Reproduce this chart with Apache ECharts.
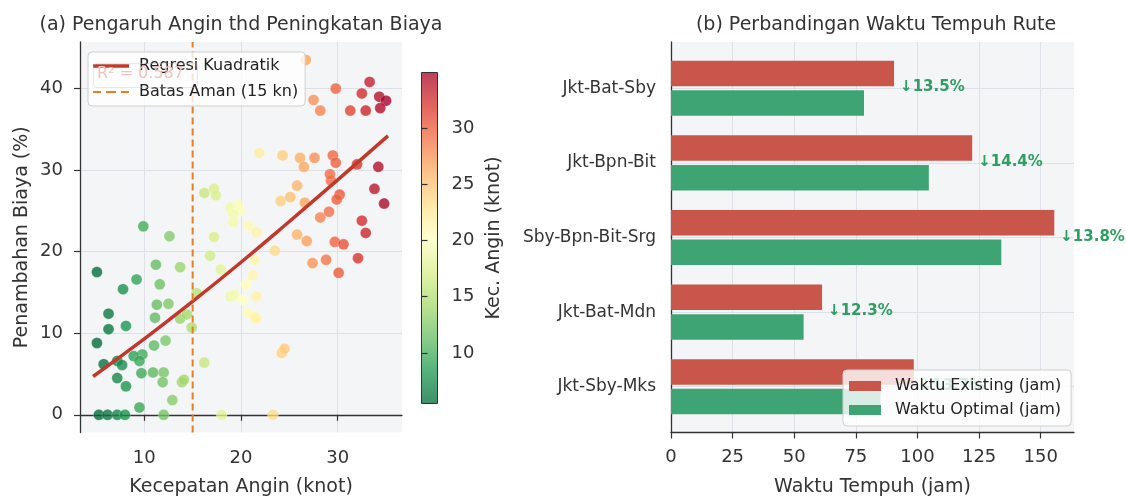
<!DOCTYPE html>
<html><head><meta charset="utf-8">
<script src="https://cdn.jsdelivr.net/npm/echarts@6/dist/echarts.min.js"></script>
<style>html,body{margin:0;padding:0;background:#fff}#c{width:1126px;height:497px}</style>
</head><body><div id="c"></div>
<script>
// ---- Panel (a) data ----
const windSpeed = [
  5.1,9.9,12.6,11.2,13.7,9.2,11.6,7.8,6.3,6.3,8.1,5.1,11.3,12.5,11.1,13.7,14.4,15.4,14.9,12.2,
  11.0,9.8,8.9,9.5,5.8,7.2,7.7,7.2,8.1,9.7,10.9,12.0,11.9,13.9,14.1,12.9,9.5,5.3,6.2,7.2,8.0,12.0,
  16.2,18.0,23.3,24.2,24.5,17.2,16.8,17.9,18.9,19.3,20.2,21.6,21.2,20.5,20.7,21.4,21.6,21.4,20.8,21.6,
  18.9,19.7,19.9,19.2,19.2,16.2,17.2,17.4,21.9,
  23.5,25.8,26.8,27.4,28.8,30.1,29.7,30.6,28.2,29.1,32.1,32.5,32.9,34.8,24.1,25.1,25.8,26.6,29.3,29.2,
  30.2,29.9,33.8,24.3,26.1,26.5,27.6,29.5,29.8,32.0,34.2,26.7,29.8,33.3,32.5,34.3,35.0,34.4,32.9,31.3,27.5,28.2
];
const costIncrease = [
  17.5,23.1,21.9,18.4,18.1,16.6,16.0,15.4,12.4,10.5,10.9,8.8,13.5,13.6,11.9,11.8,12.3,14.9,10.7,9.1,
  8.5,7.4,7.2,6.6,6.2,6.6,6.1,4.5,3.5,5.1,5.2,5.2,4.0,4.0,4.3,1.8,0.9,0,0,0,0,0,
  6.4,0,0,7.6,8.1,21.8,19.5,17.8,14.5,14.7,14.1,14.5,17.1,16.0,12.5,12.0,11.8,19.0,23.2,22.4,
  25.4,25.7,25.0,24.6,23.6,27.2,27.7,26.9,32.1,
  20.1,22.1,21.3,18.6,19.0,17.4,21.2,20.9,24.2,24.9,19.2,23.8,22.3,25.9,26.2,26.7,28.1,26.0,28.7,29.5,
  27.0,26.4,27.7,31.8,31.5,30.4,31.5,31.8,30.9,30.7,30.4,43.5,40.0,40.8,39.4,39.0,38.5,37.6,37.3,37.3,38.6,37.3
];
const regressionX = [4.7, 10, 15, 20, 25, 30, 35.2];
const regressionY = [4.7, 9.3, 13.9, 18.7, 23.7, 28.8, 34.2];
const safeLimit = 15;
const r2Text = 'R² = 0.587';
const windTicks = [10, 20, 30];
const costTicks = [0, 10, 20, 30, 40];
const colorbarTicks = [10, 15, 20, 25, 30];

// ---- Panel (b) data ----
const routes = ['Jkt-Bat-Sby', 'Jkt-Bpn-Bit', 'Sby-Bpn-Bit-Srg', 'Jkt-Bat-Mdn', 'Jkt-Sby-Mks'];
const existingTime = [90.5, 122.2, 155.5, 61.3, 98.5];
const optimalTime = [78.3, 104.6, 134.0, 53.8, 85.0];
const reductionLabels = ['↓13.5%', '↓14.4%', '↓13.8%', '↓12.3%', '↓13.7%'];
const timeTicks = [0, 25, 50, 75, 100, 125, 150];

const FONT = 'DejaVu Sans';
const rdylgnR = ['#006837','#1a9850','#66bd63','#a6d96a','#d9ef8b','#ffffbf','#fee08b','#fdae61','#f46d43','#d73027','#a50026'];
function withAlpha(hex, a) {
  const n = parseInt(hex.slice(1), 16);
  return 'rgba(' + (n >> 16) + ',' + ((n >> 8) & 255) + ',' + (n & 255) + ',' + a + ')';
}
const cbGradient = {
  type: 'linear', x: 0, y: 0, x2: 0, y2: 1,
  colorStops: rdylgnR.slice().reverse().map((c, i, arr) => ({ offset: i / (arr.length - 1), color: withAlpha(c, 0.75) }))
};

const scatterData = windSpeed.map((x, i) => [x, costIncrease[i]]);
const regressionData = regressionX.map((x, i) => [x, regressionY[i]]);

const axisLineStyle = { show: true, lineStyle: { color: '#333', width: 1.3 } };
const tickStyle = { lineStyle: { color: '#333', width: 1.2 }, length: 6, inside: false };
const splitStyle = { show: true, lineStyle: { color: '#dde1e7', width: 1 } };
const labelStyle = { fontFamily: FONT, fontSize: 18, color: '#333' };
const nameStyle = { fontFamily: FONT, fontSize: 19, color: '#333' };

const chart = echarts.init(document.getElementById('c'), null, { renderer: 'canvas' });
chart.setOption({
  backgroundColor: '#ffffff',
  animation: false,
  title: [
    { text: '(a) Pengaruh Angin thd Peningkatan Biaya', left: 236, top: 11, textAlign: 'center',
      textStyle: { fontFamily: FONT, fontSize: 19, fontWeight: 'normal', color: '#333' } },
    { text: '(b) Perbandingan Waktu Tempuh Rute', left: 871, top: 11, textAlign: 'center',
      textStyle: { fontFamily: FONT, fontSize: 19, fontWeight: 'normal', color: '#333' } }
  ],
  grid: [
    { left: 80, top: 42, width: 322, height: 390.5, show: true, backgroundColor: '#f4f5f7', borderWidth: 0, outerBoundsMode: 'none', containLabel: false },
    { left: 421.5, top: 72.5, width: 16, height: 331, show: true, backgroundColor: cbGradient, borderColor: '#333', borderWidth: 1, outerBoundsMode: 'none', containLabel: false },
    { left: 671, top: 42, width: 403, height: 390.5, show: true, backgroundColor: '#f4f5f7', borderWidth: 0, outerBoundsMode: 'none', containLabel: false },
    { left: 671, top: 51, width: 403, height: 373, outerBoundsMode: 'none', containLabel: false }
  ],
  xAxis: [
    { gridIndex: 0, type: 'value', min: 3.35, max: 36.65,
      axisLine: axisLineStyle, axisTick: Object.assign({ customValues: windTicks }, tickStyle),
      axisLabel: Object.assign({ customValues: windTicks, margin: 17 }, labelStyle),
      splitLine: splitStyle,
      name: 'Kecepatan Angin (knot)', nameLocation: 'middle', nameGap: 45, nameTextStyle: nameStyle },
    { gridIndex: 1, type: 'value', min: 0, max: 1, show: false },
    { gridIndex: 2, type: 'value', min: 0, max: 163.5,
      axisLine: axisLineStyle, axisTick: Object.assign({ customValues: timeTicks }, tickStyle),
      axisLabel: Object.assign({ customValues: timeTicks, margin: 16 }, labelStyle),
      splitLine: splitStyle,
      name: 'Waktu Tempuh (jam)', nameLocation: 'middle', nameGap: 45, nameTextStyle: nameStyle },
    { gridIndex: 3, type: 'value', min: 0, max: 163.5, show: false }
  ],
  yAxis: [
    { gridIndex: 0, type: 'value', min: -2.17, max: 45.7,
      axisLine: axisLineStyle, axisTick: Object.assign({ customValues: costTicks }, tickStyle),
      axisLabel: Object.assign({ customValues: costTicks, margin: 17 }, labelStyle),
      splitLine: splitStyle,
      name: 'Penambahan Biaya (%)', nameLocation: 'middle', nameGap: 48, nameRotate: 90, nameTextStyle: nameStyle },
    { gridIndex: 1, type: 'value', min: 5.5, max: 34.95, position: 'right',
      axisLine: { show: false }, axisTick: Object.assign({ customValues: colorbarTicks }, tickStyle),
      axisLabel: Object.assign({ customValues: colorbarTicks, margin: 14 }, labelStyle),
      splitLine: { show: false },
      name: 'Kec. Angin (knot)', nameLocation: 'middle', nameGap: 47, nameRotate: 90, nameTextStyle: nameStyle },
    { gridIndex: 2, type: 'value', min: 0, max: 1, axisLine: axisLineStyle,
      axisTick: { show: false }, axisLabel: { show: false }, splitLine: { show: false } },
    { gridIndex: 3, type: 'category', data: routes, inverse: true,
      axisLine: { show: false },
      axisTick: Object.assign({ alignWithLabel: true }, tickStyle),
      axisLabel: { fontFamily: FONT, fontSize: 17, color: '#333', margin: 15 },
      splitLine: { show: true, alignWithLabel: true, lineStyle: { color: '#dde1e7', width: 1 } } }
  ],
  visualMap: {
    show: false, type: 'continuous', seriesIndex: 0, dimension: 0, min: 5.5, max: 34.95,
    inRange: { color: rdylgnR }
  },
  legend: [
    { data: [
        { name: 'Regresi Kuadratik', icon: 'path://M0,0H36V3.5H0Z' },
        { name: 'Batas Aman (15 kn)', icon: 'path://M0,0H8V2H0Z M13,0H23V2H13Z M28,0H36V2H28Z' }
      ],
      orient: 'vertical', left: 88, top: 52,
      itemWidth: 36, itemHeight: 14, itemGap: 10, padding: [6, 7, 6, 5],
      backgroundColor: 'rgba(255,255,255,0.8)', borderColor: '#cfcfcf', borderWidth: 1, borderRadius: 4,
      textStyle: { fontFamily: FONT, fontSize: 16, color: '#222', padding: [0, 0, 0, 5] }, z: 4 },
    { data: ['Waktu Existing (jam)', 'Waktu Optimal (jam)'], orient: 'vertical', left: 843, top: 370,
      icon: 'rect', itemWidth: 32, itemHeight: 10, itemGap: 8, padding: [8, 10, 8, 6],
      backgroundColor: 'rgba(255,255,255,0.8)', borderColor: '#cfcfcf', borderWidth: 1, borderRadius: 4,
      textStyle: { fontFamily: FONT, fontSize: 16, color: '#222', padding: [0, 0, 0, 9] }, z: 4 }
  ],
  graphic: [
    { type: 'rect', left: 93, top: 63, shape: { width: 104, height: 24, r: 3 }, z: 10,
      style: { fill: 'rgba(255,255,255,0)', stroke: 'rgba(190,190,190,0.35)', lineWidth: 1 } },
    { type: 'text', left: 97, top: 66, z: 10,
      style: { text: r2Text, fontFamily: FONT, fontSize: 16, fill: '#efc3be' } }
  ],
  series: [
    { type: 'scatter', xAxisIndex: 0, yAxisIndex: 0, data: scatterData, symbolSize: 11, z: 2,
      itemStyle: { opacity: 0.78, borderColor: 'rgba(255,255,255,0.6)', borderWidth: 0.5 } },
    { type: 'line', name: 'Regresi Kuadratik', xAxisIndex: 0, yAxisIndex: 0, data: regressionData,
      smooth: true, symbol: 'none', z: 3, lineStyle: { color: '#c0392b', width: 3.5 }, itemStyle: { color: '#c0392b' } },
    { type: 'line', name: 'Batas Aman (15 kn)', xAxisIndex: 0, yAxisIndex: 0,
      data: [[safeLimit, -2.17], [safeLimit, 45.7]], symbol: 'none', z: 3,
      lineStyle: { color: '#e67e22', width: 2, type: [7, 4] }, itemStyle: { color: '#e67e22' } },
    { type: 'bar', name: 'Waktu Existing (jam)', xAxisIndex: 3, yAxisIndex: 3, data: existingTime,
      barWidth: 25.5, barGap: '16%', itemStyle: { color: '#c8564b' },
      label: { show: true, position: 'right', distance: 6, offset: [0, 14],
        formatter: (p) => reductionLabels[p.dataIndex],
        fontFamily: FONT, fontSize: 15, fontWeight: 'bold', color: '#2f9e62' } },
    { type: 'bar', name: 'Waktu Optimal (jam)', xAxisIndex: 3, yAxisIndex: 3, data: optimalTime,
      barWidth: 25.5, barGap: '16%', itemStyle: { color: '#3ea473' } }
  ]
});
</script></body></html>
